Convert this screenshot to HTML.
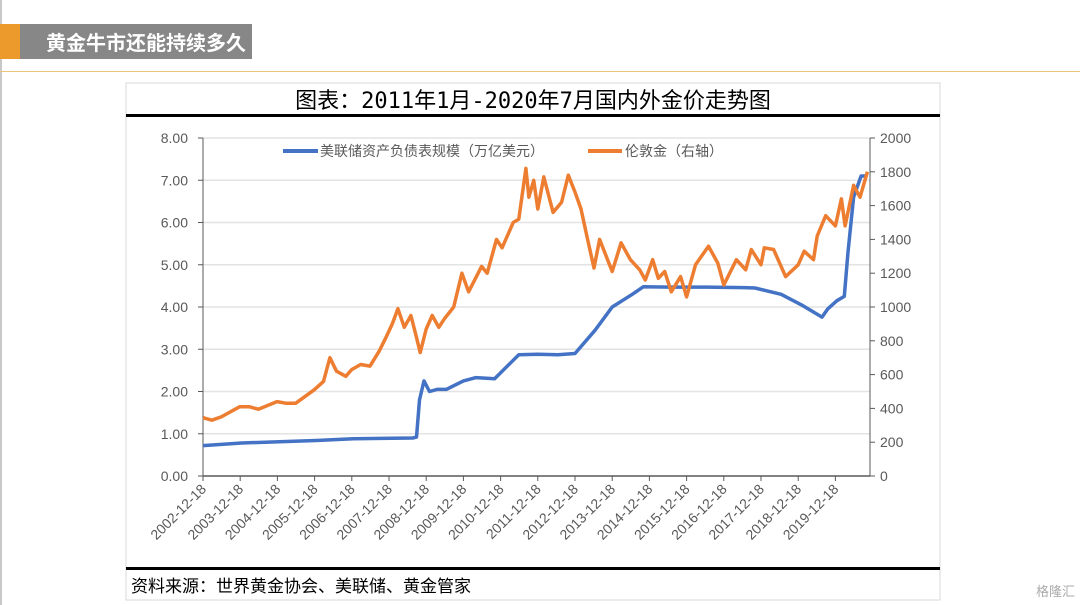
<!DOCTYPE html>
<html><head><meta charset="utf-8">
<style>
body{margin:0;width:1080px;height:605px;background:#fff;position:relative;overflow:hidden;font-family:"Liberation Sans","Noto Sans CJK SC",sans-serif;}
#lb{position:absolute;left:0;top:0;width:2px;height:605px;background:#c8c8c8}
#hdr-o{position:absolute;left:0;top:24px;width:20px;height:35px;background:#ec9a2c}
#hdr{position:absolute;left:20px;top:24px;width:232px;height:35px;background:#878787;color:#fff;font-size:20px;font-weight:bold;line-height:35px;padding-left:26px;box-sizing:border-box;font-family:"Noto Sans CJK SC",sans-serif}
#gl{position:absolute;left:0;top:71px;width:1080px;height:1px;background:#e8c77a}
svg{position:absolute;left:0;top:0}
</style></head><body>
<div id="lb"></div>
<div id="hdr-o"></div>
<div id="hdr">黄金牛市还能持续多久</div>
<div id="gl"></div>
<svg id="chart" width="1080" height="605"></svg>
<script>
const xTickLabels=["2002-12-18","2003-12-18","2004-12-18","2005-12-18","2006-12-18","2007-12-18","2008-12-18","2009-12-18","2010-12-18","2011-12-18","2012-12-18","2013-12-18","2014-12-18","2015-12-18","2016-12-18","2017-12-18","2018-12-18","2019-12-18"];
const leftTicks=["0.00","1.00","2.00","3.00","4.00","5.00","6.00","7.00","8.00"];
const rightTicks=["0","200","400","600","800","1000","1200","1400","1600","1800","2000"];
const goldDates=[2002.96,2003.2,2003.45,2003.95,2004.2,2004.45,2004.95,2005.2,2005.45,2005.7,2005.95,2006.2,2006.37,2006.55,2006.8,2006.96,2007.2,2007.45,2007.7,2007.88,2008.05,2008.2,2008.37,2008.55,2008.7,2008.8,2008.96,2009.12,2009.3,2009.45,2009.7,2009.92,2010.1,2010.45,2010.6,2010.85,2011.0,2011.3,2011.45,2011.64,2011.72,2011.85,2011.96,2012.12,2012.37,2012.6,2012.78,2012.96,2013.12,2013.3,2013.47,2013.62,2013.96,2014.2,2014.45,2014.7,2014.85,2015.05,2015.2,2015.37,2015.55,2015.8,2015.96,2016.2,2016.55,2016.8,2016.96,2017.3,2017.55,2017.7,2017.96,2018.05,2018.3,2018.62,2018.96,2019.12,2019.37,2019.47,2019.7,2019.96,2020.12,2020.22,2020.45,2020.62,2020.82];
const goldValues=[345,330,350,410,410,395,440,430,430,470,510,560,700,620,590,630,660,650,740,820,900,990,880,950,820,730,870,950,880,930,1000,1200,1090,1240,1200,1400,1350,1500,1520,1820,1650,1750,1580,1770,1560,1620,1780,1680,1580,1400,1230,1400,1210,1380,1280,1220,1160,1280,1170,1210,1090,1180,1060,1250,1360,1260,1130,1280,1220,1340,1250,1350,1340,1180,1250,1330,1280,1420,1540,1480,1640,1480,1720,1650,1800];
const fedDates=[2002.96,2004.0,2006.0,2007.0,2008.6,2008.7,2008.78,2008.9,2009.05,2009.25,2009.5,2009.96,2010.3,2010.8,2011.45,2011.96,2012.5,2012.96,2013.5,2013.96,2014.5,2014.8,2015.5,2016.5,2017.5,2017.8,2018.5,2019.05,2019.6,2019.75,2020.0,2020.2,2020.3,2020.45,2020.65,2020.8];
const fedValues=[0.72,0.78,0.84,0.88,0.90,0.92,1.8,2.25,2.0,2.05,2.05,2.25,2.33,2.30,2.87,2.88,2.87,2.9,3.45,4.0,4.3,4.48,4.47,4.47,4.46,4.45,4.3,4.05,3.76,3.95,4.15,4.25,5.3,6.6,7.1,7.1];

const NS="http://www.w3.org/2000/svg";
const svg=document.getElementById('chart');
const X0=203,X1=870,Y0=476,Y1=138;
const xS=d=>X0+(d-2002.96)*37.2;
const yL=v=>Y0-(v/8)*(Y0-Y1);
const yR=v=>Y0-(v/2000)*(Y0-Y1);
function el(t,a,p){const e=document.createElementNS(NS,t);for(const k in a)e.setAttribute(k,a[k]);(p||svg).appendChild(e);return e;}
const F='"Liberation Sans","Noto Sans CJK SC",sans-serif';

let e=el('rect',{x:126,y:83,width:814,height:517,fill:'#fff',stroke:'#d9d9d9'});

e=el('text',{x:533,y:108,'text-anchor':'middle','font-size':22,fill:'#000','font-family':'"DejaVu Sans Mono","Noto Sans CJK SC",sans-serif'});e.textContent='图表：2011年1月-2020年7月国内外金价走势图';

e=el('rect',{x:126,y:114,width:814,height:3,fill:'#000'});


leftTicks.forEach((t,i)=>{const y=yL(+t);
 if(i>0){e=el('line',{x1:X0,x2:X1,y1:y,y2:y,stroke:'#e3e3e3','stroke-width':1.5});}
 el('line',{x1:X0-5,x2:X0,y1:y,y2:y,stroke:'#595959'});
 e=el('text',{x:188,y:y+5,'text-anchor':'end','font-size':14,fill:'#595959','font-family':F});e.textContent=t;
 });
rightTicks.forEach(t=>{const y=yR(+t);
 el('line',{x1:X1,x2:X1+5,y1:y,y2:y,stroke:'#595959'});
 e=el('text',{x:880,y:y+5,'font-size':14,fill:'#595959','font-family':F});e.textContent=t;
 });
e=el('line',{x1:X0,x2:X0,y1:Y1,y2:Y0,stroke:'#595959'});
e=el('line',{x1:X1,x2:X1,y1:Y1,y2:Y0,stroke:'#595959'});
e=el('line',{x1:X0,x2:X1,y1:Y0,y2:Y0,stroke:'#595959','stroke-width':1.5});
xTickLabels.forEach((t,i)=>{const x=xS(2002.96+i);
 el('line',{x1:x,x2:x,y1:Y0,y2:Y0+5,stroke:'#595959'});
 e=el('text',{x:x+4,y:Y0+14,'text-anchor':'end','font-size':14,fill:'#595959','font-family':F,transform:`rotate(-45 ${x+4} ${Y0+14})`});e.textContent=t;
 });

function path(ds,vs,ys,col,name){const d=ds.map((t,i)=>(i?'L':'M')+xS(t).toFixed(1)+','+ys(vs[i]).toFixed(1)).join('');
 const p=el('path',{d:d,fill:'none',stroke:col,'stroke-width':3.5,'stroke-linejoin':'round'});
 }
path(fedDates,fedValues,yL,'#4472c4','fed-balance-line');
path(goldDates,goldValues,yR,'#ed7d31','london-gold-line');

e=el('line',{x1:283,x2:318,y1:151,y2:151,stroke:'#4472c4','stroke-width':4});
e=el('text',{x:320,y:156,'font-size':14,fill:'#595959','font-family':F});e.textContent='美联储资产负债表规模（万亿美元）';
e=el('line',{x1:588,x2:622,y1:151,y2:151,stroke:'#ed7d31','stroke-width':4});
e=el('text',{x:625,y:156,'font-size':14,fill:'#595959','font-family':F});e.textContent='伦敦金（右轴）';

e=el('rect',{x:126,y:567,width:814,height:3,fill:'#000'});
e=el('text',{x:131,y:592,'font-size':17,fill:'#000','font-family':'"Noto Sans CJK SC",sans-serif'});e.textContent='资料来源：世界黄金协会、美联储、黄金管家';
e=el('text',{x:1075,y:596,'text-anchor':'end','font-size':13,fill:'#aaa','font-family':'"Noto Sans CJK SC",sans-serif'});e.textContent='格隆汇';
</script>
</body></html>
